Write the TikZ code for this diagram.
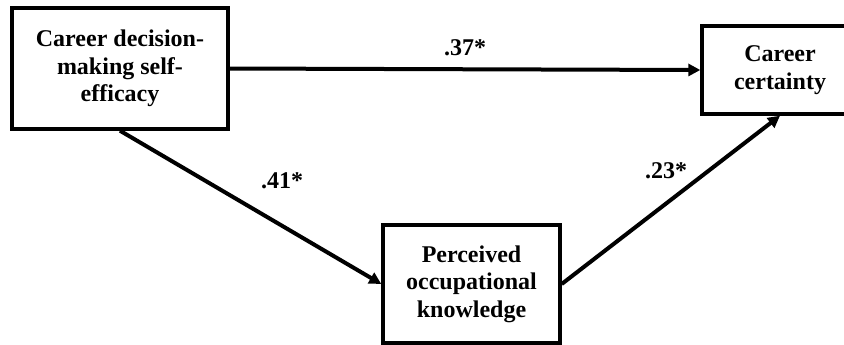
\documentclass[tikz,border=0pt]{standalone}
\usepackage{fontspec}
\setmainfont{Liberation Serif}
\usetikzlibrary{arrows.meta}
\begin{document}
\begin{tikzpicture}[x=0.5pt, y=-0.5pt,
        every node/.style={font=\bfseries\fontsize{12}{13.8}\selectfont},
        box/.style={draw, line width=1.7pt, align=center, inner sep=0pt},
        link/.style={line width=2pt, -{Triangle[length=6pt, width=6pt]}}]
        \useasboundingbox (0, 0) rectangle (844, 344);
        \clip (0, 0) rectangle (844, 344);
        % variables
        \node[box, minimum width=108pt, minimum height=60.5pt] (cdse) at (120, 68.5) {Career decision-\\making self-\\efficacy};
        \node[box, minimum width=78pt, minimum height=44pt] (cc) at (780, 70) {Career\\certainty};
        \node[box, minimum width=88.5pt, minimum height=59pt] (pok) at (471.5, 284) {Perceived\\occupational\\knowledge};
        % paths
        \draw[link] (cdse.east) -- (cc.west);
        \draw[link] (cdse.south) -- (pok.west);
        \draw[link] (pok.east) -- (cc.south);
        \node (b37) at (465, 48) {.37*};
        \node (b41) at (282, 181) {.41*};
        \node (b23) at (666, 171) {.23*};
    \end{tikzpicture}
\end{document}
